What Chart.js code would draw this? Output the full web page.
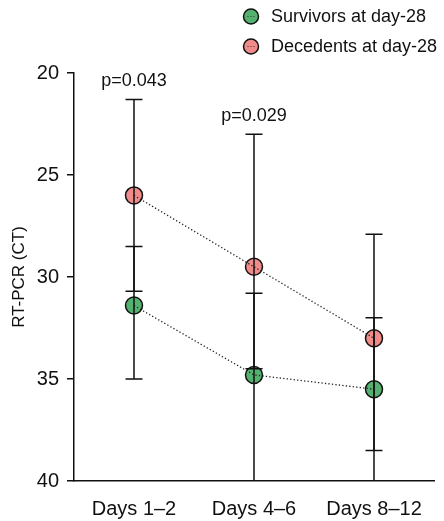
<!DOCTYPE html>
<html>
<head>
<meta charset="utf-8">
<script src="https://cdn.jsdelivr.net/npm/chart.js@4.4.1/dist/chart.umd.min.js"></script>
<style>
  html, body { margin: 0; padding: 0; background: #fff; }
  #wrap { width: 444px; height: 521px; position: relative; }
</style>
</head>
<body>
<div id="wrap"><canvas id="c" width="444" height="521"></canvas></div>
<script>
// ---- data ----
const categories = ['Days 1\u20132', 'Days 4\u20136', 'Days 8\u201312'];
const survivorsMean = [31.4, 34.8, 35.5];
const survivorsLow  = [28.5, 30.8, 32.0];
const survivorsHigh = [35.0, 41.0, 38.5];
const decedentsMean = [26.0, 29.5, 33.0];
const decedentsLow  = [21.3, 23.0, 27.9];
const decedentsHigh = [30.7, 34.5, 41.0];
const pValues = ['p=0.043', 'p=0.029', ''];
const yTicks = [20, 25, 30, 35, 40];

const FONT = "'Liberation Sans', Arial, Helvetica, sans-serif";
const GREEN = '#55b170';
const PINK = '#f08b8a';

const errorBars = [
  { low: survivorsLow, high: survivorsHigh },
  { low: decedentsLow, high: decedentsHigh }
];

const errorBarPlugin = {
  id: 'errorBars',
  afterDatasetsDraw(chart) {
    const { ctx, chartArea, scales } = chart;
    const xs = scales.x, ys = scales.y;
    ctx.save();
    ctx.beginPath();
    ctx.rect(chartArea.left, chartArea.top - 2, chartArea.right - chartArea.left, chartArea.bottom - chartArea.top + 2);
    ctx.clip();
    ctx.strokeStyle = '#111';
    ctx.lineWidth = 1.5;
    const cap = 8.5;
    errorBars.forEach(eb => {
      categories.forEach((c, i) => {
        const x = xs.getPixelForValue(i);
        const y1 = ys.getPixelForValue(eb.low[i]);
        const y2 = ys.getPixelForValue(eb.high[i]);
        ctx.beginPath();
        ctx.moveTo(x, y1); ctx.lineTo(x, y2);
        ctx.moveTo(x - cap, y1); ctx.lineTo(x + cap, y1);
        ctx.moveTo(x - cap, y2); ctx.lineTo(x + cap, y2);
        ctx.stroke();
      });
    });
    ctx.restore();

    // p-value labels above the highest whisker
    ctx.save();
    ctx.fillStyle = '#111';
    ctx.font = '18px ' + FONT;
    ctx.textAlign = 'center';
    ctx.textBaseline = 'middle';
    pValues.forEach((p, i) => {
      if (!p) return;
      const top = Math.min(survivorsLow[i], decedentsLow[i]);
      const x = xs.getPixelForValue(i);
      const y = ys.getPixelForValue(top) - 18;
      ctx.fillText(p, x, y);
    });
    ctx.restore();
  },
  afterDraw(chart) {
    // legend
    const { ctx } = chart;
    const items = chart.data.datasets.filter(d => d.legendItem);
    ctx.save();
    items.forEach((d, k) => {
      const cy = 16.5 + k * 30;
      const cx = 251;
      ctx.beginPath();
      ctx.arc(cx, cy, 7.5, 0, Math.PI * 2);
      ctx.fillStyle = d.backgroundColor;
      ctx.fill();
      ctx.lineWidth = 1.5;
      ctx.strokeStyle = '#111';
      ctx.stroke();
      ctx.fillStyle = '#333';
      [-3, 0, 3].forEach(dx => { ctx.fillRect(cx + dx - 0.5, cy - 0.5, 1, 1); });
      ctx.fillStyle = '#111';
      ctx.font = '18px ' + FONT;
      ctx.textAlign = 'left';
      ctx.textBaseline = 'middle';
      ctx.fillText(d.label, 271, cy + 0.5);
    });
    ctx.restore();
  }
};

const chart = new Chart(document.getElementById('c'), {
  type: 'line',
  data: {
    labels: categories,
    datasets: [
      { label: 'Survivors at day-28 line', data: survivorsMean, showLine: true, pointRadius: 0,
        borderColor: '#222', borderWidth: 1.3, borderDash: [1.3, 2.2], fill: false, order: 0 },
      { label: 'Decedents at day-28 line', data: decedentsMean, showLine: true, pointRadius: 0,
        borderColor: '#222', borderWidth: 1.3, borderDash: [1.3, 2.2], fill: false, order: 0 },
      { label: 'Survivors at day-28', legendItem: true, data: survivorsMean, showLine: false,
        pointRadius: 8.5, pointHoverRadius: 8.5, backgroundColor: GREEN, pointBackgroundColor: GREEN,
        pointBorderColor: '#111', pointBorderWidth: 1.5, order: 1 },
      { label: 'Decedents at day-28', legendItem: true, data: decedentsMean, showLine: false,
        pointRadius: 8.5, pointHoverRadius: 8.5, backgroundColor: PINK, pointBackgroundColor: PINK,
        pointBorderColor: '#111', pointBorderWidth: 1.5, order: 1 }
    ]
  },
  options: {
    responsive: false,
    animation: false,
    devicePixelRatio: 1,
    layout: { padding: { top: 73, right: 10, left: 0, bottom: 0 } },
    plugins: { legend: { display: false }, tooltip: { enabled: false } },
    scales: {
      x: {
        type: 'category',
        offset: true,
        grid: { display: false, drawTicks: false },
        border: { display: true, color: '#111', width: 1.5 },
        ticks: { color: '#111', font: { family: FONT, size: 20 }, padding: 16, maxRotation: 0 },
        afterFit(s) { s.height = 40; }
      },
      y: {
        reverse: true,
        min: 20, max: 40,
        afterBuildTicks(s) { s.ticks = yTicks.map(v => ({ value: v })); },
        grid: { display: true, drawOnChartArea: false, drawTicks: true, tickLength: 7, color: '#111', lineWidth: 1.5 },
        border: { display: true, color: '#111', width: 1.5 },
        ticks: { color: '#111', font: { family: FONT, size: 20 }, padding: 8 },
        title: { display: true, text: 'RT-PCR (CT)', color: '#111', font: { family: FONT, size: 17 }, padding: { top: 9, bottom: 0 } },
        afterFit(s) { s.width = 74; }
      }
    }
  },
  plugins: [errorBarPlugin]
});
</script>
</body>
</html>
